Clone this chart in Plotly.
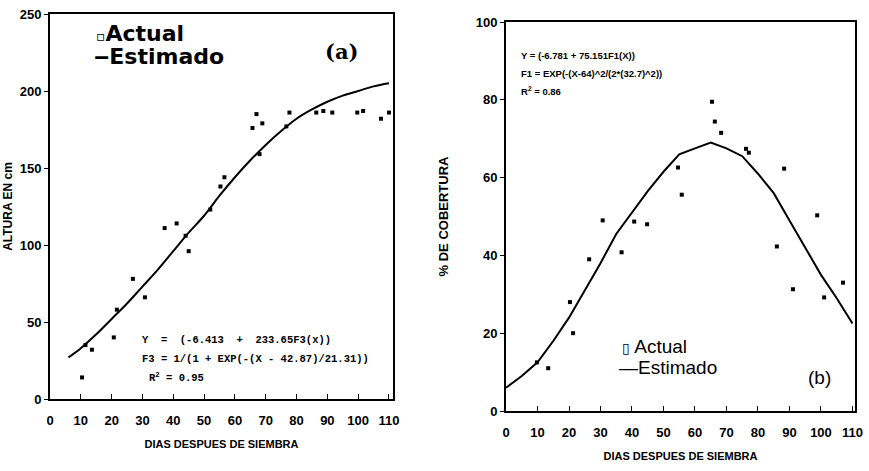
import plotly.graph_objects as go

# ---- Panel (a): plant height ----
days_a = [10.4, 11.5, 13.6, 20.7, 21.7, 26.9, 30.8, 37.2, 41.1, 44, 45, 52, 55.3, 56.6,
          65.7, 67, 68, 68.9, 76.7, 77.7, 86.4, 88.7, 91.6, 99.7, 101.6, 107.4, 110]
height_a = [14, 35, 32, 40, 58, 78, 66, 111, 114, 106, 96, 123, 138, 144,
            176, 185, 159, 179, 177, 186, 186, 187, 186, 186, 187, 182, 186]
fit_days_a = [6, 10, 15, 20, 25, 30, 35, 40, 45, 50, 55, 60, 65, 70, 75, 80, 85, 90, 95, 100, 105, 110]
fit_height_a = [27, 33, 42, 52, 62, 73, 84, 96, 108, 119, 132, 144, 155, 165, 174, 182, 188, 193, 197, 200, 203, 205]

# ---- Panel (b): ground cover ----
days_b = [9.8, 13.4, 20.3, 21.3, 26.4, 30.7, 36.7, 40.7, 44.8, 54.6, 55.8, 65.4, 66.3, 68.3,
          76.2, 77.1, 86, 88.3, 91.1, 98.8, 101, 107]
cover_b = [12.5, 11, 28, 20, 39, 49, 40.8, 48.7, 48, 62.6, 55.6, 79.5, 74.4, 71.5,
           67.4, 66.4, 42.3, 62.3, 31.3, 50.3, 29.2, 33]
fit_days_b = [0, 5, 10, 15, 20, 25, 30, 35, 40, 45, 50, 55, 60, 65, 70, 75, 80, 85, 90, 95, 100, 105, 110]
fit_cover_b = [6, 9, 12.5, 18, 24, 31, 38, 45.5, 51, 56.5, 61.5, 66, 67.5, 69, 67.5, 65.5, 61, 56, 49, 42, 35, 29, 22.5]

x_ticks = [0, 10, 20, 30, 40, 50, 60, 70, 80, 90, 100, 110]
y_ticks_a = [0, 50, 100, 150, 200, 250]
y_ticks_b = [0, 20, 40, 60, 80, 100]

W, H = 869, 471
# panel geometry in pixels (left, right, top, bottom) and axis ranges
PA = dict(px=(50, 393, 14, 399), xr=[0, 111.3], yr=[0, 250])
PB = dict(px=(506, 855, 22, 411), xr=[0, 110.8], yr=[0, 100])

fig = go.Figure()

mk = dict(symbol="square", size=4, color="black")
fig.add_trace(go.Scatter(x=days_a, y=height_a, mode="markers", marker=mk, name="Actual",
                         xaxis="x", yaxis="y", showlegend=False))
fig.add_trace(go.Scatter(x=fit_days_a, y=fit_height_a, mode="lines",
                         line=dict(color="black", width=2, shape="spline"),
                         name="Estimado", xaxis="x", yaxis="y", showlegend=False))
fig.add_trace(go.Scatter(x=days_b, y=cover_b, mode="markers", marker=mk, name="Actual",
                         xaxis="x2", yaxis="y2", showlegend=False))
fig.add_trace(go.Scatter(x=fit_days_b, y=fit_cover_b, mode="lines", line=dict(color="black", width=2),
                         name="Estimado", xaxis="x2", yaxis="y2", showlegend=False))

SANS = "Liberation Sans, Arial, sans-serif"
tickfont = dict(family=SANS, size=13, color="black")
titlefont = dict(family=SANS, size=11, color="black")


def bold(vals):
    return ["<b>%s</b>" % v for v in vals]


def dom(p):
    l, r, t, b = p["px"]
    return [l / W, r / W], [(H - b) / H, (H - t) / H]


def xax(p, anchor):
    return dict(domain=dom(p)[0], range=p["xr"], anchor=anchor, tickmode="array", tickvals=x_ticks,
                ticktext=bold(x_ticks), ticks="inside", ticklen=5, tickwidth=1.2, tickcolor="black",
                ticklabelstandoff=8,
                showline=True, linecolor="black", linewidth=2, mirror=True,
                showgrid=False, zeroline=False, tickfont=tickfont,
                title=dict(text="<b>DIAS DESPUES DE SIEMBRA</b>", font=titlefont, standoff=14))


def yax(p, tv, title, tfont, standoff, anchor):
    return dict(domain=dom(p)[1], range=p["yr"], anchor=anchor, tickmode="array", tickvals=tv,
                ticktext=bold(tv), ticks="outside", ticklen=4, tickwidth=1.2, tickcolor="black",
                showline=True, linecolor="black", linewidth=2, mirror=True,
                showgrid=False, zeroline=False, tickfont=tickfont,
                title=dict(text="<b>%s</b>" % title, font=tfont, standoff=standoff))


fig.update_layout(
    template="none",
    width=W, height=H, margin=dict(l=0, r=0, t=0, b=0),
    paper_bgcolor="white", plot_bgcolor="white", showlegend=False,
    xaxis=xax(PA, "y"),
    yaxis=yax(PA, y_ticks_a, "ALTURA EN cm", dict(family=SANS, size=12, color="black"), 4, "x"),
    xaxis2=xax(PB, "y2"),
    yaxis2=yax(PB, y_ticks_b, "% DE COBERTURA", dict(family=SANS, size=13, color="black"), 24, "x2"),
)


def ann(x, y, text, size, family=SANS, xanchor="left"):
    fig.add_annotation(x=x / W, y=1 - y / H, xref="paper", yref="paper", text=text, showarrow=False,
                       xanchor=xanchor, yanchor="middle",
                       font=dict(family=family, size=size, color="black"))


# Panel (a) legend and label
ann(94, 34, "<b><span style='font-size:14px'>▫</span>Actual</b>", 22, "DejaVu Sans, sans-serif")
ann(92, 57, "<b>‒Estimado</b>", 22, "DejaVu Sans, sans-serif")
ann(323, 52, "<b>(a)</b>", 21, "DejaVu Serif, serif")
# Panel (a) equations
MONO = "Liberation Mono, DejaVu Sans Mono, monospace"
ann(140, 340, "<b>Y  =  (-6.413  +  233.65F3(x))</b>", 10.5, MONO)
ann(140, 359, "<b>F3 = 1/(1 + EXP(-(X - 42.87)/21.31))</b>", 10.5, MONO)
ann(147, 377, "<b>R<sup>2</sup> = 0.95</b>", 10.5, MONO)

# Panel (b) equations
ann(519, 56, "<b>Y = (-6.781 + 75.151F1(X))</b>", 9.5)
ann(519, 74, "<b>F1 = EXP(-(X-64)^2/(2*(32.7)^2))</b>", 9.5)
ann(519, 91, "<b>R<sup>2</sup> = 0.86</b>", 9.5)
# Panel (b) legend and label
ann(620, 346, "<span style='font-size:14px'>▯</span> Actual", 19)
ann(617, 367, "—Estimado", 19)
ann(806, 377, "(b)", 19)

fig.write_html("out.html")
